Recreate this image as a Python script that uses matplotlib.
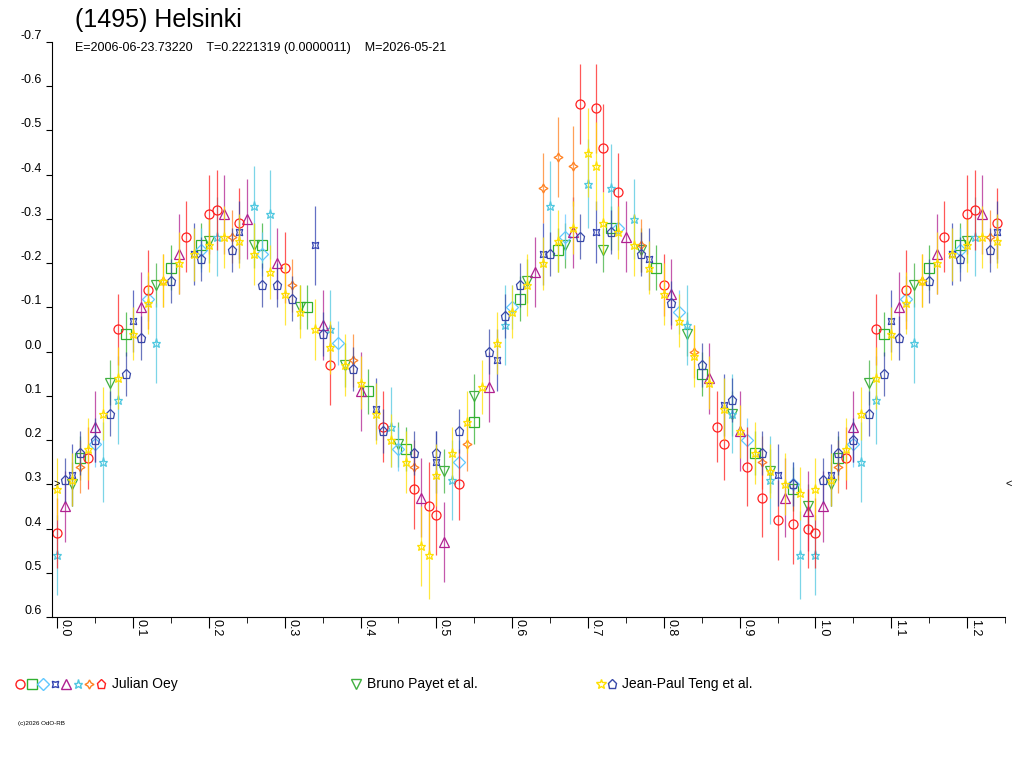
import numpy as np
import matplotlib
matplotlib.use("Agg")
import matplotlib.pyplot as plt
from matplotlib.ticker import MultipleLocator

plt.rcParams['font.family'] = ['Liberation Sans', 'DejaVu Sans']

title = "(1495) Helsinki"
subtitle = "E=2006-06-23.73220    T=0.2221319 (0.0000011)    M=2026-05-21"

# observer series: phase, reduced magnitude, error
red_o_ph = [0.00, 0.04, 0.08, 0.12, 0.17, 0.20, 0.21, 0.24, 0.30, 0.36, 0.43, 0.47, 0.49, 0.50, 0.53,
            0.69, 0.71, 0.72, 0.74, 0.80, 0.87, 0.88, 0.91, 0.93, 0.95, 0.97, 0.99]
red_o_mag = [0.41, 0.24, -0.05, -0.14, -0.26, -0.31, -0.32, -0.29, -0.19, 0.03, 0.17, 0.31, 0.35, 0.37, 0.30,
             -0.56, -0.55, -0.46, -0.36, -0.15, 0.17, 0.21, 0.26, 0.33, 0.38, 0.39, 0.40]
red_o_err = [0.08, 0.07, 0.08, 0.09, 0.08, 0.09, 0.09, 0.08, 0.08, 0.09, 0.08, 0.09, 0.10, 0.09, 0.08,
             0.09, 0.10, 0.10, 0.09, 0.07, 0.08, 0.08, 0.09, 0.09, 0.09, 0.09, 0.09]

green_s_ph = [0.03, 0.09, 0.15, 0.19, 0.27, 0.33, 0.41, 0.46, 0.55, 0.61, 0.66, 0.73, 0.79, 0.85, 0.92, 0.97]
green_s_mag = [0.24, -0.04, -0.19, -0.24, -0.24, -0.10, 0.09, 0.22, 0.16, -0.12, -0.23, -0.28, -0.19, 0.05, 0.23, 0.31]
green_s_err = [0.05, 0.05, 0.05, 0.05, 0.05, 0.05, 0.05, 0.05, 0.05, 0.05, 0.05, 0.05, 0.05, 0.05, 0.05, 0.05]

purple_t_ph = [0.01, 0.05, 0.11, 0.16, 0.22, 0.25, 0.29, 0.35, 0.40, 0.48, 0.51, 0.57, 0.63, 0.68, 0.75,
               0.81, 0.86, 0.90, 0.96, 0.99]
purple_t_mag = [0.35, 0.17, -0.10, -0.22, -0.31, -0.30, -0.20, -0.06, 0.09, 0.33, 0.43, 0.08, -0.18, -0.27, -0.26,
                -0.13, 0.06, 0.18, 0.33, 0.36]
purple_t_err = [0.08, 0.08, 0.08, 0.09, 0.09, 0.09, 0.08, 0.08, 0.09, 0.09, 0.09, 0.08, 0.08, 0.08, 0.08,
                0.08, 0.08, 0.09, 0.09, 0.09]

cyan_star_ph = [0.00, 0.06, 0.08, 0.13, 0.21, 0.26, 0.28, 0.36, 0.44, 0.52, 0.59, 0.65, 0.70, 0.73, 0.76,
                0.83, 0.89, 0.94, 0.98]
cyan_star_mag = [0.46, 0.25, 0.11, -0.02, -0.26, -0.33, -0.31, -0.05, 0.17, 0.29, -0.06, -0.33, -0.38, -0.37, -0.30,
                 -0.06, 0.14, 0.29, 0.46]
cyan_star_err = [0.09, 0.09, 0.10, 0.09, 0.09, 0.09, 0.10, 0.09, 0.09, 0.09, 0.09, 0.10, 0.10, 0.10, 0.09,
                 0.09, 0.09, 0.10, 0.10]

blue_x_ph = [0.02, 0.10, 0.18, 0.24, 0.34, 0.42, 0.50, 0.58, 0.64, 0.71, 0.78, 0.88, 0.95]
blue_x_mag = [0.28, -0.07, -0.22, -0.27, -0.24, 0.13, 0.25, 0.02, -0.22, -0.27, -0.21, 0.12, 0.28]
blue_x_err = [0.07, 0.07, 0.07, 0.07, 0.09, 0.07, 0.07, 0.07, 0.07, 0.07, 0.07, 0.07, 0.07]

orange_ph = [0.03, 0.14, 0.23, 0.31, 0.39, 0.47, 0.54, 0.64, 0.66, 0.68, 0.77, 0.84, 0.93]
orange_mag = [0.26, -0.16, -0.26, -0.15, 0.02, 0.26, 0.21, -0.37, -0.44, -0.42, -0.24, 0.00, 0.25]
orange_err = [0.06, 0.06, 0.06, 0.06, 0.06, 0.06, 0.06, 0.08, 0.09, 0.09, 0.06, 0.06, 0.06]

lblue_d_ph = [0.05, 0.12, 0.19, 0.27, 0.37, 0.45, 0.53, 0.60, 0.67, 0.74, 0.82, 0.91, 0.97]
lblue_d_mag = [0.21, -0.12, -0.23, -0.22, -0.02, 0.22, 0.25, -0.10, -0.26, -0.28, -0.09, 0.20, 0.30]
lblue_d_err = [0.05, 0.05, 0.05, 0.05, 0.05, 0.05, 0.05, 0.05, 0.05, 0.05, 0.05, 0.05, 0.05]

payet_ph = [0.02, 0.07, 0.13, 0.20, 0.26, 0.32, 0.38, 0.45, 0.51, 0.55, 0.62, 0.67, 0.72, 0.77, 0.83,
            0.89, 0.94, 0.99]
payet_mag = [0.30, 0.07, -0.15, -0.25, -0.24, -0.10, 0.03, 0.21, 0.27, 0.10, -0.16, -0.24, -0.23, -0.23, -0.04,
             0.14, 0.27, 0.35]
payet_err = [0.05, 0.05, 0.05, 0.05, 0.05, 0.05, 0.05, 0.05, 0.05, 0.05, 0.05, 0.05, 0.05, 0.05, 0.05,
             0.05, 0.05, 0.05]

teng_y_ph = [0.00, 0.02, 0.04, 0.06, 0.08, 0.10, 0.12, 0.14, 0.16, 0.18, 0.20, 0.22, 0.24, 0.26, 0.28,
             0.30, 0.32, 0.34, 0.36, 0.38, 0.40, 0.42, 0.44, 0.46, 0.48, 0.49, 0.50, 0.52, 0.54, 0.56,
             0.58, 0.60, 0.62, 0.64, 0.66, 0.68, 0.70, 0.71, 0.72, 0.74, 0.76, 0.78, 0.80, 0.82, 0.84,
             0.86, 0.88, 0.90, 0.92, 0.94, 0.96, 0.98]
teng_y_mag = [0.31, 0.29, 0.22, 0.14, 0.06, -0.04, -0.11, -0.16, -0.20, -0.22, -0.24, -0.26, -0.25, -0.22, -0.18,
              -0.13, -0.09, -0.05, -0.01, 0.03, 0.07, 0.14, 0.20, 0.25, 0.44, 0.46, 0.28, 0.23, 0.16, 0.08,
              -0.02, -0.09, -0.15, -0.20, -0.25, -0.28, -0.45, -0.42, -0.29, -0.27, -0.24, -0.19, -0.13, -0.07, 0.01,
              0.07, 0.13, 0.18, 0.23, 0.27, 0.30, 0.32]
teng_y_err = [0.07, 0.06, 0.07, 0.06, 0.07, 0.06, 0.07, 0.06, 0.07, 0.06, 0.06, 0.07, 0.06, 0.07, 0.06,
              0.07, 0.06, 0.07, 0.06, 0.07, 0.06, 0.07, 0.06, 0.07, 0.09, 0.10, 0.07, 0.06, 0.07, 0.06,
              0.07, 0.06, 0.07, 0.06, 0.07, 0.06, 0.10, 0.10, 0.07, 0.06, 0.07, 0.06, 0.07, 0.06, 0.07,
              0.06, 0.07, 0.06, 0.07, 0.06, 0.07, 0.06]

teng_p_ph = [0.01, 0.03, 0.05, 0.07, 0.09, 0.11, 0.15, 0.19, 0.23, 0.27, 0.29, 0.31, 0.35, 0.39, 0.43,
             0.47, 0.50, 0.53, 0.57, 0.59, 0.61, 0.65, 0.69, 0.73, 0.77, 0.81, 0.85, 0.89, 0.93, 0.97]
teng_p_mag = [0.29, 0.23, 0.20, 0.14, 0.05, -0.03, -0.16, -0.21, -0.23, -0.15, -0.15, -0.12, -0.04, 0.04, 0.18,
              0.23, 0.23, 0.18, 0.00, -0.08, -0.15, -0.22, -0.26, -0.27, -0.22, -0.11, 0.03, 0.11, 0.23, 0.30]
teng_p_err = [0.05, 0.05, 0.05, 0.05, 0.05, 0.05, 0.05, 0.05, 0.05, 0.05, 0.05, 0.05, 0.05, 0.05, 0.05,
              0.05, 0.05, 0.05, 0.05, 0.05, 0.05, 0.05, 0.05, 0.05, 0.05, 0.05, 0.05, 0.05, 0.05, 0.05]

series = [
    (payet_ph, payet_mag, payet_err, 'v', '#40b040'),
    (green_s_ph, green_s_mag, green_s_err, 's', '#30b030'),
    (lblue_d_ph, lblue_d_mag, lblue_d_err, 'D', '#60c8ff'),
    (cyan_star_ph, cyan_star_mag, cyan_star_err, '*', '#50c8e0'),
    (purple_t_ph, purple_t_mag, purple_t_err, '^', '#b02090'),
    (orange_ph, orange_mag, orange_err, (4, 1, 0), '#ff8020'),
    (red_o_ph, red_o_mag, red_o_err, 'o', '#ff2020'),
    (blue_x_ph, blue_x_mag, blue_x_err, (4, 1, 45), '#3040b0'),
    (teng_p_ph, teng_p_mag, teng_p_err, 'p', '#3848a8'),
    (teng_y_ph, teng_y_mag, teng_y_err, '*', '#ffe000'),
]

fig = plt.figure(figsize=(10.24, 7.68), dpi=100)
ax = fig.add_axes([52 / 1024, 1 - 617 / 768, (1005 - 52) / 1024, (617 - 42) / 768])

for ph, mag, err, mk, col in series:
    ph = np.array(ph)
    mag = np.array(mag)
    err = np.array(err)
    # repeat the first quarter of the phase after 1.0
    wrap = ph < 0.25
    x = np.concatenate([ph, ph[wrap] + 1.0])
    y = np.concatenate([mag, mag[wrap]])
    e = np.concatenate([err, err[wrap]])
    ax.errorbar(x, y, yerr=e, fmt='none', ecolor=col, elinewidth=0.9, alpha=0.75)
    ax.plot(x, y, linestyle='none', marker=mk, markersize=6.5, markerfacecolor='none',
            markeredgecolor=col, markeredgewidth=0.9)

ax.set_xlim(-0.007, 1.25)
ax.set_ylim(0.6, -0.7)
ax.xaxis.set_major_locator(MultipleLocator(0.1))
ax.xaxis.set_minor_locator(MultipleLocator(0.05))
ax.set_xticklabels([])
for t in np.arange(0, 1.25, 0.1):
    ax.text(t + 0.002, 0.605, f"{t:.1f}", rotation=270, ha='left', va='top', fontsize=9,
            transform=ax.transData, clip_on=False)
yt = np.round(np.arange(-0.7, 0.61, 0.1), 1)
ax.set_yticks(yt)
ax.set_yticklabels([f"{v:.1f}" if abs(v) > 1e-9 else "0.0" for v in yt])
ax.tick_params(axis='y', labelsize=9, length=4, direction='out')
ax.tick_params(axis='x', which='major', length=8, direction='out')
ax.tick_params(axis='x', which='minor', length=4, direction='out')
ax.spines['top'].set_visible(False)
ax.spines['right'].set_visible(False)
for lbl in ax.get_yticklabels():
    lbl.set_verticalalignment('bottom')

ax.text(-0.005, 0.3, ">", fontsize=8, ha='left', va='center')
ax.text(1.25, 0.3, "<", fontsize=8, ha='left', va='center', clip_on=False)

fig.text(75 / 1024, 1 - 20 / 768, title, fontsize=18, va='center')
fig.text(75 / 1024, 1 - 48 / 768, subtitle, fontsize=9, va='center')
fig.text(18 / 1024, 1 - 724 / 768, "(c)2026 OdO-RB", fontsize=4.5, va='center')

# legend row
lax = fig.add_axes([0, 0, 1, 1], facecolor='none')
lax.set_xlim(0, 1024)
lax.set_ylim(768, 0)
lax.axis('off')
jul = [('o', '#ff2020'), ('s', '#30b030'), ('D', '#60c8ff'), ((4, 1, 45), '#3040b0'),
       ('^', '#b02090'), ('*', '#50c8e0'), ((4, 1, 0), '#ff8020'), ('p', '#ff2020')]
for i, (mk, col) in enumerate(jul):
    lax.plot(20 + i * 11.5, 684, marker=mk, markersize=6.5, markerfacecolor='none', markeredgecolor=col)
lax.text(112, 684, "Julian Oey", fontsize=10, va='center')
lax.plot(356, 684, marker='v', markersize=6.5, markerfacecolor='none', markeredgecolor='#40b040')
lax.text(367, 684, "Bruno Payet et al.", fontsize=10, va='center')
lax.plot(601, 684, marker='*', markersize=7, markerfacecolor='none', markeredgecolor='#ffe000')
lax.plot(612, 684, marker='p', markersize=6.5, markerfacecolor='none', markeredgecolor='#3848a8')
lax.text(622, 684, "Jean-Paul Teng et al.", fontsize=10, va='center')

fig.savefig("out.png", dpi=100)
